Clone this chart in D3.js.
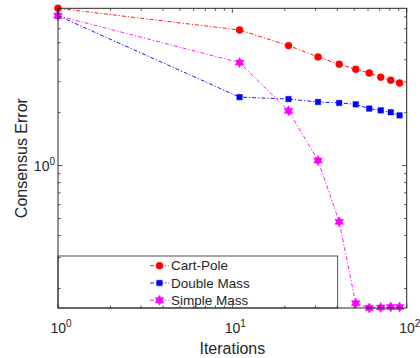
<!DOCTYPE html>
<html>
<head>
<meta charset="utf-8">
<script src="https://cdn.jsdelivr.net/npm/d3@7"></script>
<style>
  body { margin: 0; background: #fff; }
  text { font-family: "Liberation Sans", Arial, sans-serif; fill: #262626; }
</style>
</head>
<body>
<svg id="chart" width="420" height="358"></svg>
<script>
// iterations (x) and the three consensus error series
const iterations = [1, 11, 21, 31, 41, 51, 61, 71, 81, 91];
const cartPole = [7.84, 5.90, 4.81, 4.15, 3.77, 3.53, 3.36, 3.18, 3.06, 2.95];
const doubleMass = [7.11, 2.45, 2.39, 2.30, 2.27, 2.23, 2.11, 2.06, 2.01, 1.93];
const simpleMass = [7.11, 3.85, 2.05, 1.07, 0.479, 0.165, 0.155, 0.156, 0.157, 0.157];
const seriesNames = ["Cart-Pole", "Double Mass", "Simple Mass"];

const series = [
  { name: seriesNames[0], values: cartPole, color: "#ff0000", marker: "circle" },
  { name: seriesNames[1], values: doubleMass, color: "#0000ff", marker: "square" },
  { name: seriesNames[2], values: simpleMass, color: "#ff00ff", marker: "hexagram" }
];

const plotLeft = 58, plotRight = 406.7, plotTop = 8.3, plotBottom = 308;
const axisColor = "#262626";

const svg = d3.select("#chart");

const x = d3.scaleLog().domain([1, 100]).range([plotLeft, plotRight]);
const y = d3.scaleLog().domain([0.155, 7.84]).range([plotBottom, plotTop]);

// marker shapes
function markerPath(type) {
  if (type === "circle") return d3.symbol(d3.symbolCircle, 38)();
  if (type === "square") return d3.symbol(d3.symbolSquare, 30)();
  // six pointed star
  const R = 5, r = R / Math.sqrt(3);
  const pts = d3.range(12).map(i => {
    const a = i * Math.PI / 6 - Math.PI / 2;
    const rad = i % 2 === 0 ? R : r;
    return [rad * Math.cos(a), rad * Math.sin(a)];
  });
  return "M" + pts.join("L") + "Z";
}

// data lines
const line = d3.line()
  .x((d, i) => x(iterations[i]))
  .y(d => y(d));

const plot = svg.append("g");

series.forEach(s => {
  plot.append("path")
    .datum(s.values)
    .attr("fill", "none")
    .attr("stroke", s.color)
    .attr("stroke-width", 0.9)
    .attr("stroke-dasharray", "4,2,1.2,2")
    .attr("d", line);

  plot.selectAll(null)
    .data(s.values)
    .join("path")
    .attr("transform", (d, i) => `translate(${x(iterations[i])},${y(d)})`)
    .attr("d", markerPath(s.marker))
    .attr("fill", s.color)
    .attr("stroke", s.color)
    .attr("stroke-width", 0.5);
});

// legend
const legend = svg.append("g");
legend.append("rect")
  .attr("x", plotLeft)
  .attr("y", 256)
  .attr("width", 337.7 - plotLeft)
  .attr("height", plotBottom - 256)
  .attr("fill", "#fff")
  .attr("stroke", axisColor)
  .attr("stroke-width", 0.8);

const legendRows = [265.7, 283, 300.2];
series.forEach((s, i) => {
  const g = legend.append("g").attr("transform", `translate(0,${legendRows[i]})`);
  g.append("line")
    .attr("x1", 150).attr("x2", 169)
    .attr("stroke", s.color)
    .attr("stroke-width", 0.9)
    .attr("stroke-dasharray", "4,2,1.2,2");
  g.append("path")
    .attr("transform", "translate(159.5,0)")
    .attr("d", markerPath(s.marker))
    .attr("fill", s.color)
    .attr("stroke", s.color)
    .attr("stroke-width", 0.5);
  g.append("text")
    .attr("x", 171)
    .attr("dy", "0.35em")
    .attr("font-size", 13.5)
    .text(s.name);
});

// axes box and ticks
const frame = svg.append("g");
frame.append("rect")
  .attr("x", plotLeft).attr("y", plotTop)
  .attr("width", plotRight - plotLeft).attr("height", plotBottom - plotTop)
  .attr("fill", "none")
  .attr("stroke", axisColor)
  .attr("stroke-width", 1);

const xTicks = [];
[1, 10].forEach(b => d3.range(1, 10).forEach(m => xTicks.push(b * m)));
xTicks.push(100);
const yTicks = [];
[0.1, 1].forEach(b => d3.range(1, 10).forEach(m => {
  const v = +(b * m).toFixed(3);
  if (v >= 0.155 && v <= 7.84) yTicks.push(v);
}));
const isMajor = v => Math.abs(Math.log10(v) - Math.round(Math.log10(v))) < 1e-9;

xTicks.forEach(v => {
  const len = isMajor(v) ? 4.5 : 2.5;
  frame.append("line").attr("x1", x(v)).attr("x2", x(v))
    .attr("y1", plotBottom).attr("y2", plotBottom - len)
    .attr("stroke", axisColor).attr("stroke-width", 0.8);
  frame.append("line").attr("x1", x(v)).attr("x2", x(v))
    .attr("y1", plotTop).attr("y2", plotTop + len)
    .attr("stroke", axisColor).attr("stroke-width", 0.8);
});
yTicks.forEach(v => {
  const len = isMajor(v) ? 4.5 : 2.5;
  frame.append("line").attr("y1", y(v)).attr("y2", y(v))
    .attr("x1", plotLeft).attr("x2", plotLeft + len)
    .attr("stroke", axisColor).attr("stroke-width", 0.8);
  frame.append("line").attr("y1", y(v)).attr("y2", y(v))
    .attr("x1", plotRight).attr("x2", plotRight - len)
    .attr("stroke", axisColor).attr("stroke-width", 0.8);
});

// tick labels as 10^n
function powerLabel(g, px, py, exp, anchor) {
  const t = g.append("text")
    .attr("x", px).attr("y", py)
    .attr("text-anchor", anchor)
    .attr("font-size", 14);
  t.append("tspan").text("10");
  t.append("tspan").attr("dy", -6).attr("font-size", 10).text(exp);
}

[1, 10, 100].forEach(v => {
  powerLabel(svg, x(v) + 3, 333, Math.round(Math.log10(v)), "middle");
});
powerLabel(svg, plotLeft - 3, y(1) + 5, 0, "end");

// axis titles
svg.append("text")
  .attr("x", (plotLeft + plotRight) / 2)
  .attr("y", 354)
  .attr("text-anchor", "middle")
  .attr("font-size", 16)
  .text("Iterations");

svg.append("text")
  .attr("transform", `translate(27,${(plotTop + plotBottom) / 2}) rotate(-90)`)
  .attr("text-anchor", "middle")
  .attr("font-size", 16)
  .text("Consensus Error");
</script>
</body>
</html>
